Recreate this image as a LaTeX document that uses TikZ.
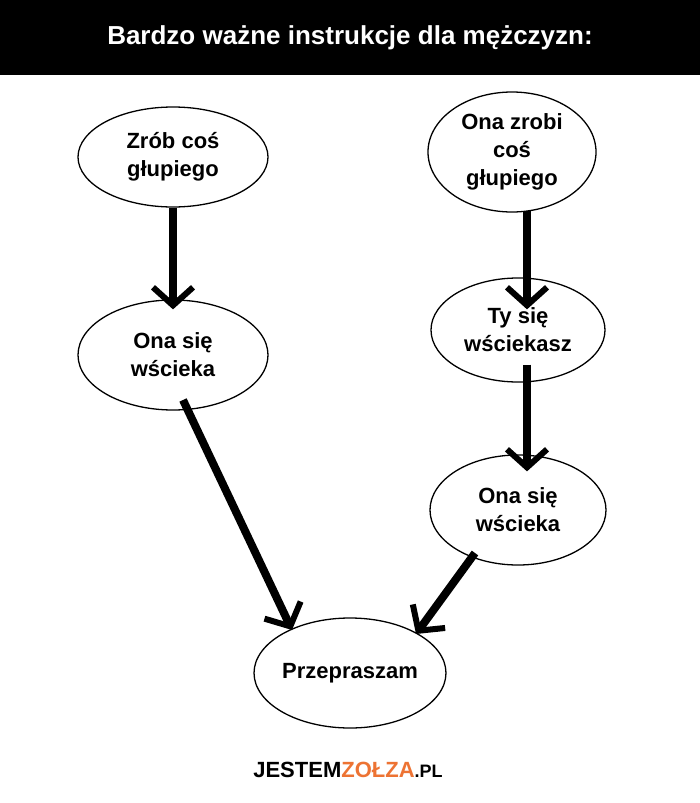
\documentclass[tikz,border=0pt]{standalone}
\usepackage{fontspec}
\setmainfont{Liberation Sans}
\usetikzlibrary{shapes.geometric,arrows.meta}
\begin{document}
\begin{tikzpicture}[x=1pt,y=-1pt,
  el/.style={ellipse,draw=black,line width=1.3pt,inner sep=0pt,font=\bfseries\fontsize{22}{28}\selectfont,align=center},
  arr/.style={line width=8pt,-{Straight Barb[length=18pt,width=40pt,line width=6pt]}}]
\useasboundingbox (0,0) rectangle (700,803);
\fill[white] (0,0) rectangle (700,803);
\fill[black] (0,0) rectangle (700,75);
\node[white,font=\bfseries\fontsize{26}{30}\selectfont] (t) at (350,38) {Bardzo ważne instrukcje dla mężczyzn:};
\node[el,minimum width=190pt,minimum height=100pt] (a) at (173,157) {Zrób coś\\głupiego};
\node[el,minimum width=168pt,minimum height=120pt] (b) at (512,152) {Ona zrobi\\coś\\głupiego};
\node[el,minimum width=190pt,minimum height=110pt] (c) at (173,355) {Ona się\\wścieka};
\node[el,minimum width=174pt,minimum height=104pt] (d) at (518,330) {Ty się\\wściekasz};
\node[el,minimum width=176pt,minimum height=110pt] (e) at (518,510) {Ona się\\wścieka};
\node[el,minimum width=190pt,minimum height=110pt] (f) at (350,673) {Przepraszam};
\draw[arr] (a.south) -- ([yshift=-10pt]c.north);
\draw[arr] ([xshift=15pt,yshift=2pt]b.south) -- ([xshift=9pt,yshift=-32pt]d.north);
\draw[arr] ([xshift=9pt,yshift=18pt]d.south) -- ([xshift=9pt,yshift=-17pt]e.north);
\coordinate (cs) at (183,400);
\coordinate (ft) at (292,630);
\draw[arr] (cs) -- (ft);
\coordinate (es) at (475,553);
\coordinate (fu) at (416,634);
\draw[arr] (es) -- (fu);
\node[font=\bfseries\fontsize{22}{25}\selectfont,inner sep=0pt] (logo) at (348,770) {JESTEM\textcolor[rgb]{0.93,0.45,0.2}{ZOŁZA}\fontsize{18}{20}\selectfont.PL};
\end{tikzpicture}
\end{document}
